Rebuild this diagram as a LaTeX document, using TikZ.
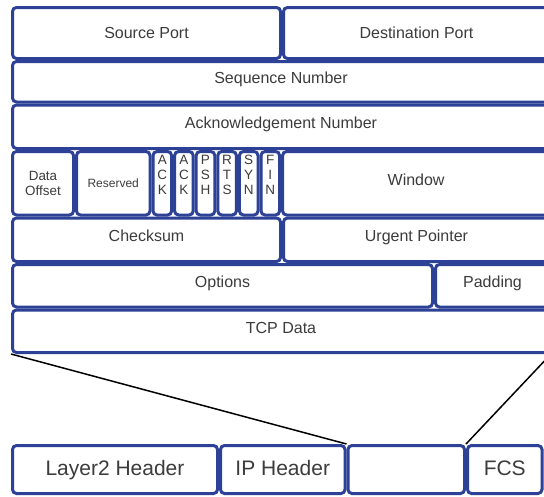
\documentclass[tikz,border=0pt]{standalone}
\usepackage{fontspec}
\setmainfont{Liberation Sans}
\usetikzlibrary{positioning}
\usepackage{xcolor}
\definecolor{FrameBlue}{HTML}{2D4296}
\definecolor{LabelGray}{HTML}{3C3C3C}

\begin{document}
\begin{tikzpicture}[x=1pt,y=-1pt,
  cell/.style={draw=FrameBlue,line width=3pt,rounded corners=4pt,fill=white,
    inner sep=0pt,anchor=north west,text=LabelGray,font=\fontsize{16}{19}\selectfont},
  cellup/.style={cell,text height=9pt,text depth=5pt},
  flagcell/.style={cell,align=center,font=\fontsize{13.5}{15}\selectfont,
    minimum width=18.6pt,minimum height=63.5pt},
  framecell/.style={cell,font=\fontsize{21}{25}\selectfont,minimum height=48pt,
    text height=15pt,text depth=4pt},
  link/.style={line width=1.5pt,black}]
  \useasboundingbox (0,0) rectangle (544,496);
  \clip (0,0) rectangle (544,496);

  % TCP header
  \node[cell,minimum width=268pt,minimum height=51pt] (sport) at (11,6) {Source Port};
  \node[cell,minimum width=266pt,minimum height=51pt] (dport) at (282,6) {Destination Port};
  \node[cellup,minimum width=537pt,minimum height=40.5pt] (seqnum) at (11,60) {Sequence Number};
  \node[cellup,minimum width=537pt,minimum height=43.5pt] (acknum) at (11,103.5) {Acknowledgement Number};

  \node[cell,align=center,font=\fontsize{13.4}{15}\selectfont,
    minimum width=61pt,minimum height=63.5pt] (doff) at (11,150) {Data\\Offset};
  \node[cell,font=\fontsize{12}{14}\selectfont,
    minimum width=73.5pt,minimum height=63.5pt] (resv) at (75,150) {Reserved};
  \node[flagcell] (flag1) at (151.5,150) {A\\C\\K\\[2pt]};
  \node[flagcell] (flag2) at (173.1,150) {A\\C\\K\\[2pt]};
  \node[flagcell] (flag3) at (194.7,150) {P\\S\\H\\[2pt]};
  \node[flagcell] (flag4) at (216.3,150) {R\\T\\S\\[2pt]};
  \node[flagcell] (flag5) at (237.9,150) {S\\Y\\N\\[2pt]};
  \node[flagcell] (flag6) at (259.5,150) {F\\I\\N\\[2pt]};
  \node[cellup,minimum width=267pt,minimum height=63.5pt] (window) at (281.1,150) {Window};

  \node[cellup,minimum width=268pt,minimum height=43.5pt] (cksum) at (11,216.5) {Checksum};
  \node[cellup,minimum width=266pt,minimum height=43.5pt] (urgent) at (282,216.5) {Urgent Pointer};
  \node[cellup,minimum width=420pt,minimum height=42.5pt] (options) at (11,263) {Options};
  \node[cellup,minimum width=114pt,minimum height=42.5pt] (padding) at (434,263) {Padding};
  \node[cellup,minimum width=537pt,minimum height=42.5pt] (tcpdata) at (11,308.5) {TCP Data};

  % layer 2 frame
  \node[framecell,minimum width=205pt] (l2hdr) at (11,444) {Layer2 Header};
  \node[framecell,minimum width=124.5pt] (iphdr) at (219,444) {IP Header};
  \node[framecell,minimum width=116.5pt] (payload) at (346.5,444) {};
  \node[framecell,minimum width=74.5pt] (fcs) at (466,444) {FCS};

  \draw[link] (tcpdata.south west) -- (payload.north west);
  \draw[link] (tcpdata.south east) -- (fcs.north west);
\end{tikzpicture}
\end{document}
